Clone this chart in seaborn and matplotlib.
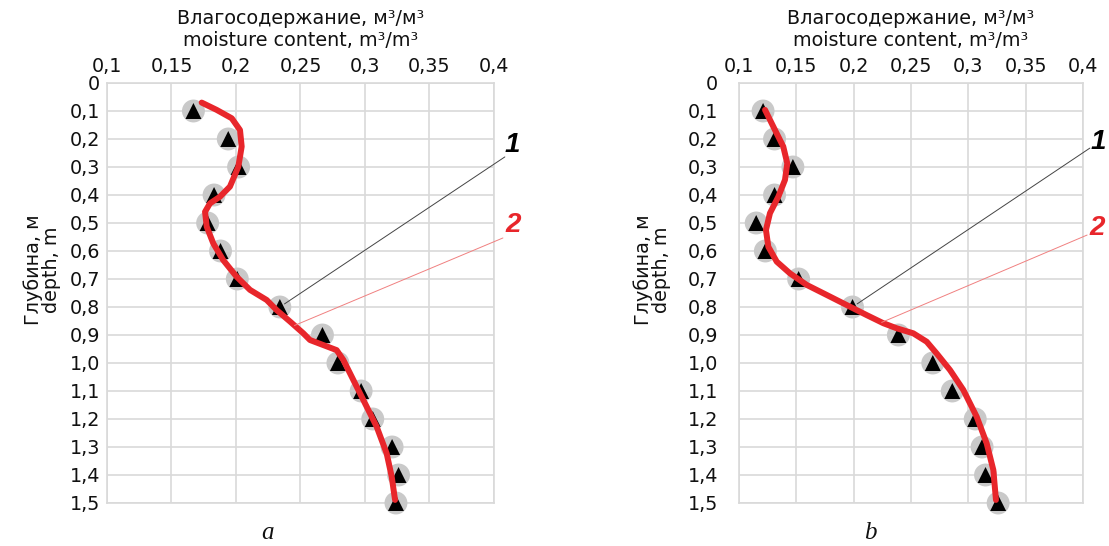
import numpy as np
import matplotlib
matplotlib.use("Agg")
import matplotlib.pyplot as plt
import seaborn as sns

# ---------------- data ----------------
depth = [0.1, 0.2, 0.3, 0.4, 0.5, 0.6, 0.7, 0.8, 0.9, 1.0, 1.1, 1.2, 1.3, 1.4, 1.5]
moist_a = [0.167, 0.194, 0.202, 0.183, 0.178, 0.188, 0.201, 0.234, 0.267,
           0.279, 0.297, 0.306, 0.321, 0.326, 0.324]
moist_b = [0.121, 0.131, 0.147, 0.131, 0.115, 0.123, 0.152, 0.199, 0.239,
           0.269, 0.286, 0.306, 0.312, 0.315, 0.326]

curve_a_x = [0.1734, 0.185, 0.1967, 0.2031, 0.2044, 0.2018, 0.1953, 0.1876, 0.1798,
             0.176, 0.1773, 0.1824, 0.190, 0.2005, 0.2109, 0.2238, 0.2315, 0.2419,
             0.2522, 0.2574, 0.2677, 0.278, 0.2832, 0.291, 0.3013, 0.309, 0.3168,
             0.3207, 0.3233]
curve_a_depth = [0.070, 0.096, 0.126, 0.168, 0.227, 0.299, 0.370, 0.406, 0.430,
                 0.460, 0.513, 0.573, 0.632, 0.692, 0.739, 0.775, 0.811, 0.852,
                 0.894, 0.918, 0.936, 0.954, 0.989, 1.061, 1.156, 1.227, 1.323,
                 1.406, 1.489]

curve_b_x = [0.1227, 0.1314, 0.1386, 0.1421, 0.1401, 0.1343, 0.127, 0.1235, 0.1256,
             0.1329, 0.1445, 0.159, 0.1765, 0.1939, 0.2114, 0.2259, 0.2375, 0.252,
             0.2637, 0.2724, 0.284, 0.2956, 0.3073, 0.316, 0.3218, 0.3241]
curve_b_depth = [0.096, 0.168, 0.227, 0.287, 0.346, 0.406, 0.465, 0.525, 0.585,
                 0.638, 0.680, 0.721, 0.757, 0.793, 0.829, 0.858, 0.876, 0.894,
                 0.924, 0.966, 1.025, 1.096, 1.192, 1.287, 1.382, 1.489]

xticks = [0.1, 0.15, 0.2, 0.25, 0.3, 0.35, 0.4]
xtick_labels = ["0,1", "0,15", "0,2", "0,25", "0,3", "0,35", "0,4"]
yticks = [0.0, 0.1, 0.2, 0.3, 0.4, 0.5, 0.6, 0.7, 0.8, 0.9, 1.0, 1.1, 1.2, 1.3, 1.4, 1.5]
ytick_labels = ["0", "0,1", "0,2", "0,3", "0,4", "0,5", "0,6", "0,7", "0,8", "0,9",
                "1,0", "1,1", "1,2", "1,3", "1,4", "1,5"]

xlabel_line1 = "Влагосодержание, м³/м³"
xlabel_line2 = "moisture content, m³/m³"
ylabel_text = "Глубина, м\ndepth, m"
panel_letters = ["a", "b"]
label_1 = "1"
label_2 = "2"

# ---------------- style ----------------
sns.set_style("white")
plt.rcParams['font.family'] = ['DejaVu Sans']
plt.rcParams.update({'text.color': '#111111', 'xtick.color': '#111111',
                     'ytick.color': '#111111', 'axes.labelcolor': '#111111'})
FS = 13.8
GRID = "#d9d9d9"
RED = "#e8262b"

fig = plt.figure(figsize=(11.09, 5.46), dpi=100)
W, H = 1109, 546


def frac_rect(l, t, r, b):
    return [l / W, 1 - b / H, (r - l) / W, (b - t) / H]


panels = [
    dict(px=(107, 494), x=moist_a, cx=curve_a_x, cd=curve_a_depth,
         ypad=5, ylab_x=42, letter_x=268, ann1=(1.028, 0.824), txt1=(1.047, 0.852),
         ann2=(1.023, 0.631), txt2=(1.049, 0.662), d2=0.866),
    dict(px=(739, 1083), x=moist_b, cx=curve_b_x, cd=curve_b_depth,
         ypad=15, ylab_x=652, letter_x=870, ann1=(1.020, 0.845), txt1=(1.044, 0.860),
         ann2=(1.012, 0.638), txt2=(1.041, 0.655), d2=0.855),
]

for i, p in enumerate(panels):
    l, r = p["px"]
    ax = fig.add_axes(frac_rect(l, 83, r, 503))
    # grey halo, black triangles, red curve
    sns.scatterplot(x=p["x"], y=depth, ax=ax, s=16.5 ** 2, color="#c9c9c9",
                    edgecolor="none", marker="o", zorder=3, clip_on=False, legend=False)
    sns.scatterplot(x=p["x"], y=depth, ax=ax, s=11.5 ** 2, color="black",
                    edgecolor="none", marker="^", zorder=4, clip_on=False, legend=False)
    sns.lineplot(x=p["cx"], y=p["cd"], ax=ax, orient="y", sort=False, estimator=None,
                 color=RED, linewidth=4.3, zorder=5)
    ax.set_xlim(0.1, 0.4)
    ax.set_ylim(1.5, 0.0)
    ax.set_xticks(xticks)
    ax.set_xticklabels(xtick_labels, fontsize=FS)
    ax.set_yticks(yticks)
    ax.set_yticklabels(ytick_labels, fontsize=FS)
    ax.xaxis.tick_top()
    ax.tick_params(axis='x', length=0, pad=5)
    ax.tick_params(axis='y', length=0, pad=p["ypad"])
    ax.grid(True, color=GRID, linewidth=1.2)
    ax.set_axisbelow(True)
    for s in ax.spines.values():
        s.set_color(GRID)
        s.set_linewidth(1.2)
    ax.set_xlabel("")
    ax.set_ylabel("")

    cx_fig = (l + r) / 2 / W
    fig.text(cx_fig, 1 - 18 / H, xlabel_line1, fontsize=FS, ha="center", va="center")
    fig.text(cx_fig, 1 - 40 / H, xlabel_line2, fontsize=FS, ha="center", va="center")

    # leader lines and labels
    ax.annotate("", xy=(p["x"][7], depth[7]), xycoords="data",
                xytext=p["ann1"], textcoords="axes fraction",
                arrowprops=dict(arrowstyle="-", color="#444444", lw=0.7,
                                shrinkA=0, shrinkB=4), zorder=6)
    d2 = p["d2"]
    x2 = float(np.interp(d2, p["cd"], p["cx"]))
    ax.annotate("", xy=(x2, d2), xycoords="data",
                xytext=p["ann2"], textcoords="axes fraction",
                arrowprops=dict(arrowstyle="-", color="#f08080", lw=0.7,
                                shrinkA=0, shrinkB=0), zorder=6)
    ax.text(*p["txt1"], label_1, transform=ax.transAxes, fontsize=20,
            family=["Liberation Sans"], fontweight="bold", fontstyle="italic",
            color="black", ha="center", va="center", clip_on=False)
    ax.text(*p["txt2"], label_2, transform=ax.transAxes, fontsize=20,
            family=["Liberation Sans"], fontweight="bold", fontstyle="italic",
            color=RED, ha="center", va="center", clip_on=False)

    fig.text(p["ylab_x"] / W, 1 - 270 / H, ylabel_text, rotation=90, fontsize=FS,
             ha="center", va="center", linespacing=0.95)
    fig.text(p["letter_x"] / W, 0.003, panel_letters[i], fontsize=18,
             family=["Liberation Serif"], fontstyle="italic", ha="center",
             va="bottom")

fig.savefig("out.png", dpi=100)
